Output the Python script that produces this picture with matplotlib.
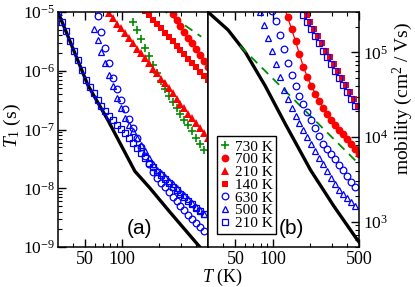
import matplotlib
matplotlib.use("Agg")
import matplotlib.pyplot as plt
from matplotlib.lines import Line2D
from matplotlib.ticker import FixedLocator, FixedFormatter, LogLocator, NullFormatter, FuncFormatter
import numpy as np

plt.rcParams['font.family'] = 'serif'
plt.rcParams['font.serif'] = ['Liberation Serif', 'DejaVu Serif']
plt.rcParams['mathtext.fontset'] = 'custom'
plt.rcParams['mathtext.rm'] = 'Liberation Serif'
plt.rcParams['mathtext.it'] = 'Liberation Serif:italic'

# ---------------- data ----------------
T_GRID = [30.0, 32.3, 34.8, 37.5, 40.4, 43.5, 46.8, 50.4, 54.3, 58.5, 63.0, 67.8,
          73.0, 78.6, 84.7, 91.2, 98.2, 105.8, 113.9, 122.7, 132.1, 142.3, 153.2,
          165.0, 177.7, 191.4, 206.1, 222.0, 239.0, 257.4, 277.2, 298.5, 321.5,
          346.2, 372.8, 401.5, 432.4, 465.6, 501.4]

# panel (a): T1 (s)
t1_green_730 = [6.76e-6, 4.94e-6, 3.47e-6, 2.44e-6, 1.78e-6, 1.27e-6, 9.16e-7, 6.59e-7,
                4.83e-7, 3.67e-7, 2.93e-7, 2.33e-7, 1.86e-7, 1.47e-7, 1.17e-7, 9.25e-8,
                7.25e-8, 5.66e-8, 4.44e-8]                       # from grid index 19
t1_red_700 = [1.15e-5, 9.14e-6, 7.28e-6, 5.78e-6, 4.60e-6, 3.66e-6, 2.91e-6, 2.31e-6,
              1.84e-6, 1.46e-6, 1.16e-6]                          # from 28
t1_red_210 = [9.44e-6, 7.76e-6, 6.37e-6, 5.24e-6, 4.31e-6, 3.54e-6, 2.91e-6, 2.39e-6,
              1.97e-6, 1.62e-6, 1.33e-6, 1.09e-6, 8.98e-7, 7.38e-7, 6.07e-7, 4.99e-7,
              4.10e-7, 3.37e-7, 2.77e-7, 2.28e-7, 1.87e-7, 1.54e-7, 1.27e-7, 1.04e-7,
              8.55e-8, 7.03e-8]                                    # from 13
t1_red_140 = [1.05e-5, 8.83e-6, 7.44e-6, 6.28e-6, 5.30e-6, 4.47e-6, 3.77e-6, 3.18e-6,
              2.68e-6, 2.26e-6, 1.91e-6, 1.61e-6, 1.36e-6, 1.15e-6, 9.66e-7, 8.15e-7,
              6.87e-7]                                             # from 22
t1_blue_630 = [8.55e-6, 4.60e-6, 2.48e-6, 1.34e-6, 7.59e-7, 4.93e-7, 3.21e-7, 2.20e-7,
               1.52e-7, 1.04e-7, 7.23e-8, 5.08e-8, 3.57e-8, 2.62e-8, 1.92e-8, 1.49e-8,
               1.24e-8, 1.03e-8, 8.53e-9, 7.13e-9, 5.98e-9, 5.03e-9, 4.21e-9, 3.56e-9,
               3.02e-9, 2.56e-9, 2.17e-9, 1.85e-9]                  # from 10
t1_blue_500 = [5.21e-6, 3.31e-6, 2.10e-6, 1.33e-6, 8.47e-7, 5.40e-7, 3.45e-7, 2.32e-7,
               1.60e-7, 1.18e-7, 9.25e-8, 7.17e-8, 5.53e-8, 4.27e-8, 3.30e-8, 2.56e-8,
               2.08e-8, 1.80e-8, 1.55e-8, 1.34e-8, 1.16e-8, 1.01e-8, 8.71e-9, 7.55e-9,
               6.51e-9, 5.64e-9, 4.86e-9, 4.20e-9, 3.61e-9]          # from 9
t1_blue_210 = [1.00e-5, 6.84e-6, 4.67e-6, 3.21e-6, 2.19e-6, 1.50e-6, 1.03e-6, 7.05e-7,
               5.36e-7, 4.13e-7, 3.21e-7, 2.53e-7, 2.08e-7, 1.72e-7, 1.43e-7, 1.21e-7,
               1.02e-7, 8.65e-8, 7.11e-8, 5.85e-8, 4.81e-8, 3.97e-8, 3.29e-8, 2.73e-8,
               2.26e-8, 1.92e-8, 1.66e-8, 1.44e-8, 1.24e-8, 1.07e-8, 9.30e-9, 8.05e-9,
               6.97e-9, 6.11e-9, 5.35e-9, 4.70e-9, 4.11e-9, 3.61e-9]  # from 0
T_black_a = [30, 39.7, 52.5, 76.4, 126.8, 168, 244.5, 429, 500]
t1_black = [1.0e-5, 2.40e-6, 5.71e-7, 1.45e-7, 1.95e-8, 1.01e-8, 3.94e-9, 1.0e-9, 7.03e-10]
T_dash_a = [202.7, 440]
t1_dash = [1.18e-5, 3.8e-6]

# panel (b): mobility (cm^2/Vs)
mu_red_700 = [3.66e5, 2.63e5, 1.89e5, 1.36e5, 9.51e4, 6.65e4, 5.10e4, 3.97e4, 3.25e4,
              2.67e4, 2.22e4, 1.86e4, 1.60e4, 1.38e4, 1.21e4, 1.07e4, 9.46e3, 8.32e3,
              7.18e3, 6.21e3]                                      # from 19
T_red_140_b = [174.6, 188.0, 202.5, 218.1, 234.9, 252.9, 272.3, 293.3, 315.8, 340.1,
               366.3, 394.4, 424.8, 457.5, 492.6]
mu_red_140 = [3.31e5, 2.74e5, 2.26e5, 1.87e5, 1.55e5, 1.28e5, 1.05e5, 8.72e4, 7.21e4,
              5.97e4, 4.93e4, 4.07e4, 3.37e4, 2.79e4, 2.30e4]
mu_blue_630 = [3.08e5, 2.32e5, 1.59e5, 1.09e5, 7.48e4, 5.35e4, 3.98e4, 3.06e4, 2.44e4,
               1.95e4, 1.57e4, 1.27e4, 1.02e4, 8.32e3, 7.21e3, 6.24e3, 5.42e3, 4.69e3,
               4.04e3, 3.45e3, 2.96e3, 2.54e3]                      # from 16
mu_blue_500 = [3.00e5, 2.11e5, 1.48e5, 1.04e5, 7.28e4, 5.11e4, 3.59e4, 2.79e4, 2.22e4,
               1.79e4, 1.48e4, 1.21e4, 9.95e3, 8.20e3, 6.84e3, 5.70e3, 4.75e3, 3.95e3,
               3.30e3, 2.81e3, 2.39e3, 2.10e3, 1.88e3, 1.69e3, 1.52e3]  # from 13
mu_blue_210 = [3.31e5, 2.74e5, 2.26e5, 1.87e5, 1.55e5, 1.28e5, 1.05e5, 8.72e4, 7.21e4,
               5.97e4, 4.93e4, 4.07e4, 3.37e4, 2.79e4, 2.30e4]      # from 23
T_black_b = [30, 43.6, 60.0, 87.2, 126.8, 202.7, 312, 472.5, 500]
mu_black = [3.0e5, 1.84e5, 1.01e5, 4.0e4, 1.42e4, 4.06e3, 1.53e3, 640, 573]
T_dash_b = [54.5, 168.0, 490]
mu_dash = [1.19e5, 2.32e4, 4.92e3]

legend_labels = ['730 K', '700 K', '210 K', '140 K', '630 K', '500 K', '210 K']

# ---------------- styles ----------------
RED = '#ff0000'
BLUE = '#0000ff'
GREEN = '#008c00'
st = {
    'g730': dict(ls='none', marker='+', color=GREEN, ms=5.5, mew=1.2),
    'r700': dict(ls='none', marker='o', color=RED, ms=5.6, mew=0),
    'r210': dict(ls='none', marker='^', color=RED, ms=6.2, mew=0),
    'r140': dict(ls='none', marker='s', color=RED, ms=5.0, mew=0),
    'b630': dict(ls='none', marker='o', mfc='none', mec=BLUE, ms=4.8, mew=0.9),
    'b500': dict(ls='none', marker='^', mfc='none', mec=BLUE, ms=5.0, mew=0.9),
    'b210': dict(ls='none', marker='s', mfc='none', mec=BLUE, ms=4.4, mew=0.9),
}

def g(start, vals):
    return T_GRID[start:start + len(vals)]

fig = plt.figure(figsize=(4.15, 2.87), dpi=100)
W, H = 415.0, 287.0
ax_a = fig.add_axes([58 / W, 40 / H, 150 / W, 235 / H])
ax_b = fig.add_axes([208 / W, 40 / H, 151 / W, 235 / H])

# panel (a)
ax_a.plot(T_black_a, t1_black, color='black', lw=2.4)
ax_a.plot(T_dash_a, t1_dash, color=GREEN, lw=1.3, dashes=(5, 3.5))
ax_a.plot(g(19, t1_green_730), t1_green_730, **st['g730'])
ax_a.plot(g(28, t1_red_700), t1_red_700, **st['r700'])
ax_a.plot(g(13, t1_red_210), t1_red_210, **st['r210'])
ax_a.plot(g(22, t1_red_140), t1_red_140, **st['r140'])
ax_a.plot(g(10, t1_blue_630), t1_blue_630, **st['b630'])
ax_a.plot(g(9, t1_blue_500), t1_blue_500, **st['b500'])
ax_a.plot(g(0, t1_blue_210), t1_blue_210, **st['b210'])

# panel (b)
ax_b.plot(T_black_b, mu_black, color='black', lw=2.4)
ax_b.plot(T_dash_b, mu_dash, color=GREEN, lw=1.3, dashes=(5, 3.5))
ax_b.plot(g(19, mu_red_700), mu_red_700, color=RED, lw=0.9, marker='o', ms=5.6, mew=0)
ax_b.plot(T_red_140_b, mu_red_140, **st['r140'])
ax_b.plot(g(16, mu_blue_630), mu_blue_630, **st['b630'])
ax_b.plot(g(13, mu_blue_500), mu_blue_500, **st['b500'])
ax_b.plot(g(23, mu_blue_210), mu_blue_210, **st['b210'])

for ax in (ax_a, ax_b):
    ax.set_xscale('log')
    ax.set_yscale('log')
    ax.set_xlim(30, 500)
    for s in ax.spines.values():
        s.set_linewidth(1.1)
    ax.xaxis.set_major_locator(FixedLocator([50, 100, 500]))
    ax.xaxis.set_minor_locator(FixedLocator([40, 60, 70, 80, 90, 200, 300, 400]))
    ax.xaxis.set_minor_formatter(NullFormatter())
    ax.tick_params(axis='x', which='both', direction='in', top=True, bottom=True,
                   labelsize=13, pad=3)
    ax.tick_params(which='major', length=6, width=1.0)
    ax.tick_params(which='minor', length=3, width=0.8)

ax_a.xaxis.set_major_formatter(FixedFormatter(['50', '100', '']))
ax_b.xaxis.set_major_formatter(FixedFormatter(['50', '100', '500']))

def sci(v, pos):
    e = int(round(np.log10(v)))
    return r'$10^{%d}$' % e

ax_a.set_ylim(1e-9, 1e-5)
ax_a.yaxis.set_major_locator(LogLocator(base=10, numticks=10))
ax_a.yaxis.set_minor_locator(LogLocator(base=10, subs=np.arange(2, 10), numticks=10))
ax_a.yaxis.set_major_formatter(FuncFormatter(sci))
ax_a.yaxis.set_minor_formatter(NullFormatter())
ax_a.tick_params(axis='y', which='both', direction='in', left=True, right=False,
                 labelsize=12.5, pad=2)

ax_b.set_ylim(500, 3e5)
ax_b.yaxis.tick_right()
ax_b.yaxis.set_major_locator(LogLocator(base=10, numticks=10))
ax_b.yaxis.set_minor_locator(LogLocator(base=10, subs=np.arange(2, 10), numticks=10))
ax_b.yaxis.set_major_formatter(FuncFormatter(sci))
ax_b.yaxis.set_minor_formatter(NullFormatter())
ax_b.tick_params(axis='y', which='both', direction='in', left=False, right=True,
                 labelsize=12.5, pad=3)

ax_a.text(0.54, 0.08, '(a)', transform=ax_a.transAxes, family='Liberation Sans',
          fontsize=15, ha='center', va='center')
ax_b.text(0.55, 0.08, '(b)', transform=ax_b.transAxes, family='Liberation Sans',
          fontsize=15, ha='center', va='center')

fig.text(12 / W, 1 - 126 / H, r'$T_1$ (s)', rotation=90, ha='center', va='center', fontsize=14)
fig.text(222 / W, 1 - 277 / H, r'$T$ (K)', ha='center', va='center', fontsize=13)
fig.text(403 / W, 1 - 98 / H, r'mobility (cm$^2$ / Vs)', rotation=90, ha='center',
         va='center', fontsize=14)

keys = ['g730', 'r700', 'r210', 'r140', 'b630', 'b500', 'b210']
handles = [Line2D([], [], **st[k]) for k in keys]
leg = ax_b.legend(handles, legend_labels, loc='lower left', bbox_to_anchor=(0.06, 0.055),
                  borderaxespad=0, fontsize=11, handlelength=0.6, handletextpad=0.3,
                  borderpad=0.25, labelspacing=-0.06, frameon=True, fancybox=False,
                  framealpha=1, edgecolor='black', numpoints=1)
leg.get_frame().set_linewidth(1.0)

fig.savefig('out.png', dpi=100)
